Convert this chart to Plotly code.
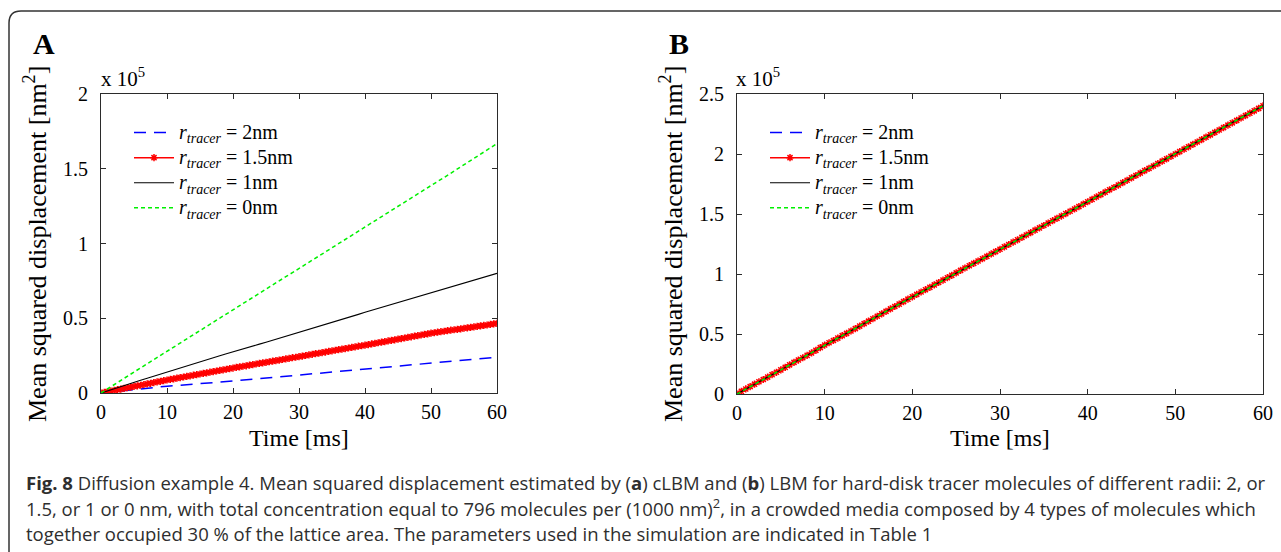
import plotly.graph_objects as go

W, H = 1281, 552

# ---- data (MSD in units of 1e5 nm^2) ----
t_coarse = list(range(61))                  # ms, 1 ms step
t_fine = [i * 0.5 for i in range(121)]      # ms, 0.5 ms step (marker series)

a_r2 = [0.000, 0.005, 0.010, 0.014, 0.019, 0.023, 0.027, 0.032, 0.036, 0.041,
        0.045, 0.048, 0.052, 0.055, 0.059, 0.062, 0.066, 0.069, 0.073, 0.076,
        0.080, 0.084, 0.088, 0.092, 0.096, 0.100, 0.104, 0.108, 0.112, 0.116,
        0.120, 0.124, 0.128, 0.132, 0.136, 0.140, 0.144, 0.148, 0.152, 0.156,
        0.160, 0.164, 0.168, 0.171, 0.175, 0.179, 0.183, 0.187, 0.190, 0.194,
        0.198, 0.202, 0.206, 0.211, 0.215, 0.219, 0.223, 0.227, 0.232, 0.236,
        0.240]

a_r15 = [0.000, 0.004, 0.009, 0.013, 0.018, 0.022, 0.026, 0.031, 0.035, 0.039,
         0.044, 0.048, 0.052, 0.057, 0.061, 0.065, 0.070, 0.074, 0.078, 0.083,
         0.087, 0.091, 0.095, 0.099, 0.103, 0.107, 0.111, 0.115, 0.119, 0.123,
         0.127, 0.131, 0.135, 0.139, 0.143, 0.147, 0.151, 0.155, 0.159, 0.163,
         0.167, 0.171, 0.175, 0.179, 0.182, 0.186, 0.190, 0.194, 0.198, 0.201,
         0.205, 0.209, 0.213, 0.217, 0.220, 0.224, 0.228, 0.232, 0.236, 0.239,
         0.243, 0.247, 0.251, 0.255, 0.259, 0.263, 0.266, 0.270, 0.274, 0.278,
         0.282, 0.286, 0.290, 0.293, 0.297, 0.301, 0.305, 0.309, 0.313, 0.316,
         0.320, 0.324, 0.328, 0.332, 0.336, 0.340, 0.344, 0.348, 0.352, 0.356,
         0.360, 0.364, 0.368, 0.372, 0.376, 0.380, 0.384, 0.388, 0.392, 0.396,
         0.400, 0.403, 0.407, 0.410, 0.413, 0.417, 0.420, 0.423, 0.426, 0.429,
         0.433, 0.436, 0.439, 0.442, 0.446, 0.449, 0.452, 0.455, 0.459, 0.462,
         0.466]

a_r1 = [0.000, 0.015, 0.029, 0.043, 0.057, 0.071, 0.085, 0.099, 0.113, 0.128,
        0.142, 0.155, 0.168, 0.181, 0.195, 0.208, 0.222, 0.235, 0.249, 0.262,
        0.276, 0.289, 0.302, 0.315, 0.327, 0.340, 0.353, 0.366, 0.379, 0.392,
        0.405, 0.418, 0.432, 0.446, 0.459, 0.473, 0.486, 0.499, 0.512, 0.526,
        0.540, 0.553, 0.566, 0.579, 0.592, 0.605, 0.618, 0.631, 0.644, 0.657,
        0.670, 0.683, 0.696, 0.709, 0.722, 0.735, 0.748, 0.761, 0.774, 0.787,
        0.800]

a_r0 = [0.000, 0.029, 0.057, 0.085, 0.112, 0.140, 0.168, 0.196, 0.223, 0.251,
        0.279, 0.307, 0.334, 0.362, 0.389, 0.417, 0.445, 0.473, 0.500, 0.528,
        0.556, 0.583, 0.611, 0.639, 0.667, 0.694, 0.722, 0.750, 0.778, 0.805,
        0.833, 0.861, 0.888, 0.916, 0.944, 0.971, 0.999, 1.027, 1.054, 1.082,
        1.110, 1.137, 1.165, 1.193, 1.220, 1.248, 1.276, 1.304, 1.331, 1.359,
        1.387, 1.415, 1.442, 1.470, 1.498, 1.525, 1.553, 1.581, 1.609, 1.637,
        1.668]

b_r15 = [0.000, 0.022, 0.042, 0.062, 0.082, 0.102, 0.121, 0.141, 0.161, 0.181,
         0.201, 0.222, 0.243, 0.263, 0.283, 0.302, 0.322, 0.342, 0.364, 0.387,
         0.408, 0.427, 0.446, 0.466, 0.486, 0.505, 0.525, 0.545, 0.566, 0.587,
         0.607, 0.627, 0.648, 0.668, 0.689, 0.709, 0.729, 0.749, 0.770, 0.790,
         0.810, 0.830, 0.850, 0.869, 0.889, 0.909, 0.929, 0.949, 0.969, 0.989,
         1.009, 1.030, 1.050, 1.069, 1.089, 1.108, 1.127, 1.147, 1.167, 1.187,
         1.206, 1.226, 1.246, 1.266, 1.285, 1.305, 1.325, 1.345, 1.365, 1.384,
         1.404, 1.424, 1.444, 1.464, 1.483, 1.503, 1.523, 1.542, 1.562, 1.582,
         1.602, 1.622, 1.642, 1.662, 1.682, 1.702, 1.721, 1.741, 1.761, 1.781,
         1.801, 1.821, 1.841, 1.861, 1.880, 1.900, 1.920, 1.940, 1.960, 1.980,
         2.000, 2.020, 2.040, 2.060, 2.080, 2.100, 2.120, 2.140, 2.160, 2.180,
         2.200, 2.220, 2.240, 2.260, 2.280, 2.300, 2.320, 2.340, 2.360, 2.380,
         2.402]

# the 2, 1 and 0 nm curves in panel B coincide with each other
b_common = [0.000, 0.042, 0.082, 0.121, 0.161, 0.201, 0.243, 0.283, 0.322, 0.364,
            0.408, 0.446, 0.486, 0.525, 0.566, 0.607, 0.648, 0.689, 0.729, 0.770,
            0.810, 0.850, 0.889, 0.929, 0.969, 1.009, 1.050, 1.089, 1.127, 1.167,
            1.206, 1.246, 1.285, 1.325, 1.365, 1.404, 1.444, 1.483, 1.523, 1.562,
            1.602, 1.642, 1.682, 1.721, 1.761, 1.801, 1.841, 1.880, 1.920, 1.960,
            2.000, 2.040, 2.080, 2.120, 2.160, 2.200, 2.240, 2.280, 2.320, 2.360,
            2.402]
b_r2 = b_common
b_r1 = b_common
b_r0 = b_common

x_ticks = [0, 10, 20, 30, 40, 50, 60]
a_yticks = [0, 0.5, 1, 1.5, 2]
a_yticktext = ["0", "0.5", "1", "1.5", "2"]
b_yticks = [0, 0.5, 1, 1.5, 2, 2.5]
b_yticktext = ["0", "0.5", "1", "1.5", "2", "2.5"]

radius_labels = ["2nm", "1.5nm", "1nm", "0nm"]

caption_lines = [
    "<b>Fig. 8</b> Diffusion example 4. Mean squared displacement estimated by (<b>a</b>) cLBM and (<b>b</b>) LBM for hard-disk tracer molecules of different radii: 2, or",
    "1.5, or 1 or 0 nm, with total concentration equal to 796 molecules per (1000 nm)<sup>2</sup>, in a crowded media composed by 4 types of molecules which",
    "together occupied 30 % of the lattice area. The parameters used in the simulation are indicated in Table 1",
]

# ---- helpers: pixel -> paper coordinates (margins are zero) ----
def px(x):
    return x / W

def py(y):
    return 1 - y / H

SERIF = "Liberation Serif"
AXIS_COLOR = "#2b2b2b"

def lbl(r):
    # legend rows are spaced by the (smaller) legend font; the label text is larger
    return ('<span style="font-size:20px"><i>r</i><sub><i>tracer</i></sub> = '
            + r + "</span>")

fig = go.Figure()

styles = [
    dict(color="#0000ff", width=1.5, dash="12px,8px"),
    dict(color="#ff0000", width=1.5),
    dict(color="#000000", width=1.1),
    dict(color="#00f000", width=1.5, dash="4px,3px"),
]

panels = [
    ("x", "y", "legend", [a_r2, a_r15, a_r1, a_r0]),
    ("x2", "y2", "legend2", [b_r2, b_r15, b_r1, b_r0]),
]

for xa, ya, leg, series in panels:
    for i, ys in enumerate(series):
        if i == 1:
            fig.add_trace(go.Scatter(
                x=t_fine, y=ys, mode="lines+markers", name=lbl(radius_labels[i]),
                line=styles[i],
                marker=dict(symbol="asterisk-open", size=6, color="#ff0000",
                            line=dict(color="#ff0000", width=1.5)),
                xaxis=xa, yaxis=ya, legend=leg))
        else:
            fig.add_trace(go.Scatter(
                x=t_coarse, y=ys, mode="lines", name=lbl(radius_labels[i]),
                line=styles[i], xaxis=xa, yaxis=ya, legend=leg))

axis_common = dict(
    showline=True, linecolor=AXIS_COLOR, linewidth=1.2, mirror="ticks",
    ticks="inside", ticklen=5, tickwidth=1.2, tickcolor=AXIS_COLOR,
    showgrid=False, zeroline=False, automargin=False,
    tickfont=dict(family=SERIF, size=20, color="#000000"),
)

A_L, A_R, A_T, A_B = 101, 497, 94, 393
B_L, B_R, B_T, B_B = 737, 1263, 94, 394

legend_common = dict(xanchor="left", yanchor="top", bgcolor="rgba(0,0,0,0)",
                     font=dict(family=SERIF, size=17, color="#000"),
                     itemwidth=40, tracegroupgap=0)

fig.update_layout(
    width=W, height=H,
    margin=dict(l=0, r=0, t=0, b=0),
    paper_bgcolor="white", plot_bgcolor="white",
    showlegend=True,
    xaxis=dict(domain=[px(A_L), px(A_R)], range=[0, 60], tickvals=x_ticks,
               ticklabelstandoff=1, anchor="y", **axis_common),
    yaxis=dict(domain=[py(A_B), py(A_T)], range=[0, 2], tickvals=a_yticks,
               ticktext=a_yticktext, ticklabelstandoff=8, anchor="x", **axis_common),
    xaxis2=dict(domain=[px(B_L), px(B_R)], range=[0, 60], tickvals=x_ticks,
                ticklabelstandoff=1, anchor="y2", **axis_common),
    yaxis2=dict(domain=[py(B_B), py(B_T)], range=[0, 2.5], tickvals=b_yticks,
                ticktext=b_yticktext, ticklabelstandoff=8, anchor="x2", **axis_common),
    legend=dict(x=px(129), y=py(115), **legend_common),
    legend2=dict(x=px(765), y=py(115), **legend_common),
)

def note(text, x, y, size, **kw):
    d = dict(text=text, x=px(x), y=py(y), xref="paper", yref="paper",
             xanchor="center", yanchor="middle", showarrow=False,
             font=dict(family=SERIF, size=size, color="#000"))
    d.update(kw)
    return d

annotations = []
# panel letters
for letter, x in (("A", 44), ("B", 679)):
    annotations.append(note("<b>" + letter + "</b>", x, 43, 30))
# exponent labels
for x in (A_L - 2, B_L - 3):
    annotations.append(note("x 10<sup>5</sup>", x, 77, 21, xanchor="left"))
# axis titles
for cx in ((A_L + A_R) / 2, (B_L + B_R) / 2):
    annotations.append(note("Time [ms]", cx, 438, 24))
for cx in (36, 672):
    annotations.append(note("Mean squared displacement [nm<sup>2</sup>]", cx, 244, 26,
                            textangle=-90))
# caption
for i, line in enumerate(caption_lines):
    annotations.append(note(line, 24, 482 + 25.5 * i, 18.5, xanchor="left",
                            font=dict(family="Open Sans", size=18.5, color="#2e2e2e")))
fig.update_layout(annotations=annotations)

# rounded frame around the figure panel (open to the right and bottom)
r = 12
x0, y0 = 9, 11
path = (f"M {px(x0)} {py(H + 5)} L {px(x0)} {py(y0 + r)} "
        f"Q {px(x0)} {py(y0)} {px(x0 + r)} {py(y0)} L {px(W + 5)} {py(y0)}")
fig.add_shape(type="path", path=path, xref="paper", yref="paper",
              line=dict(color="#333333", width=1.5))

fig.write_html("out.html")
